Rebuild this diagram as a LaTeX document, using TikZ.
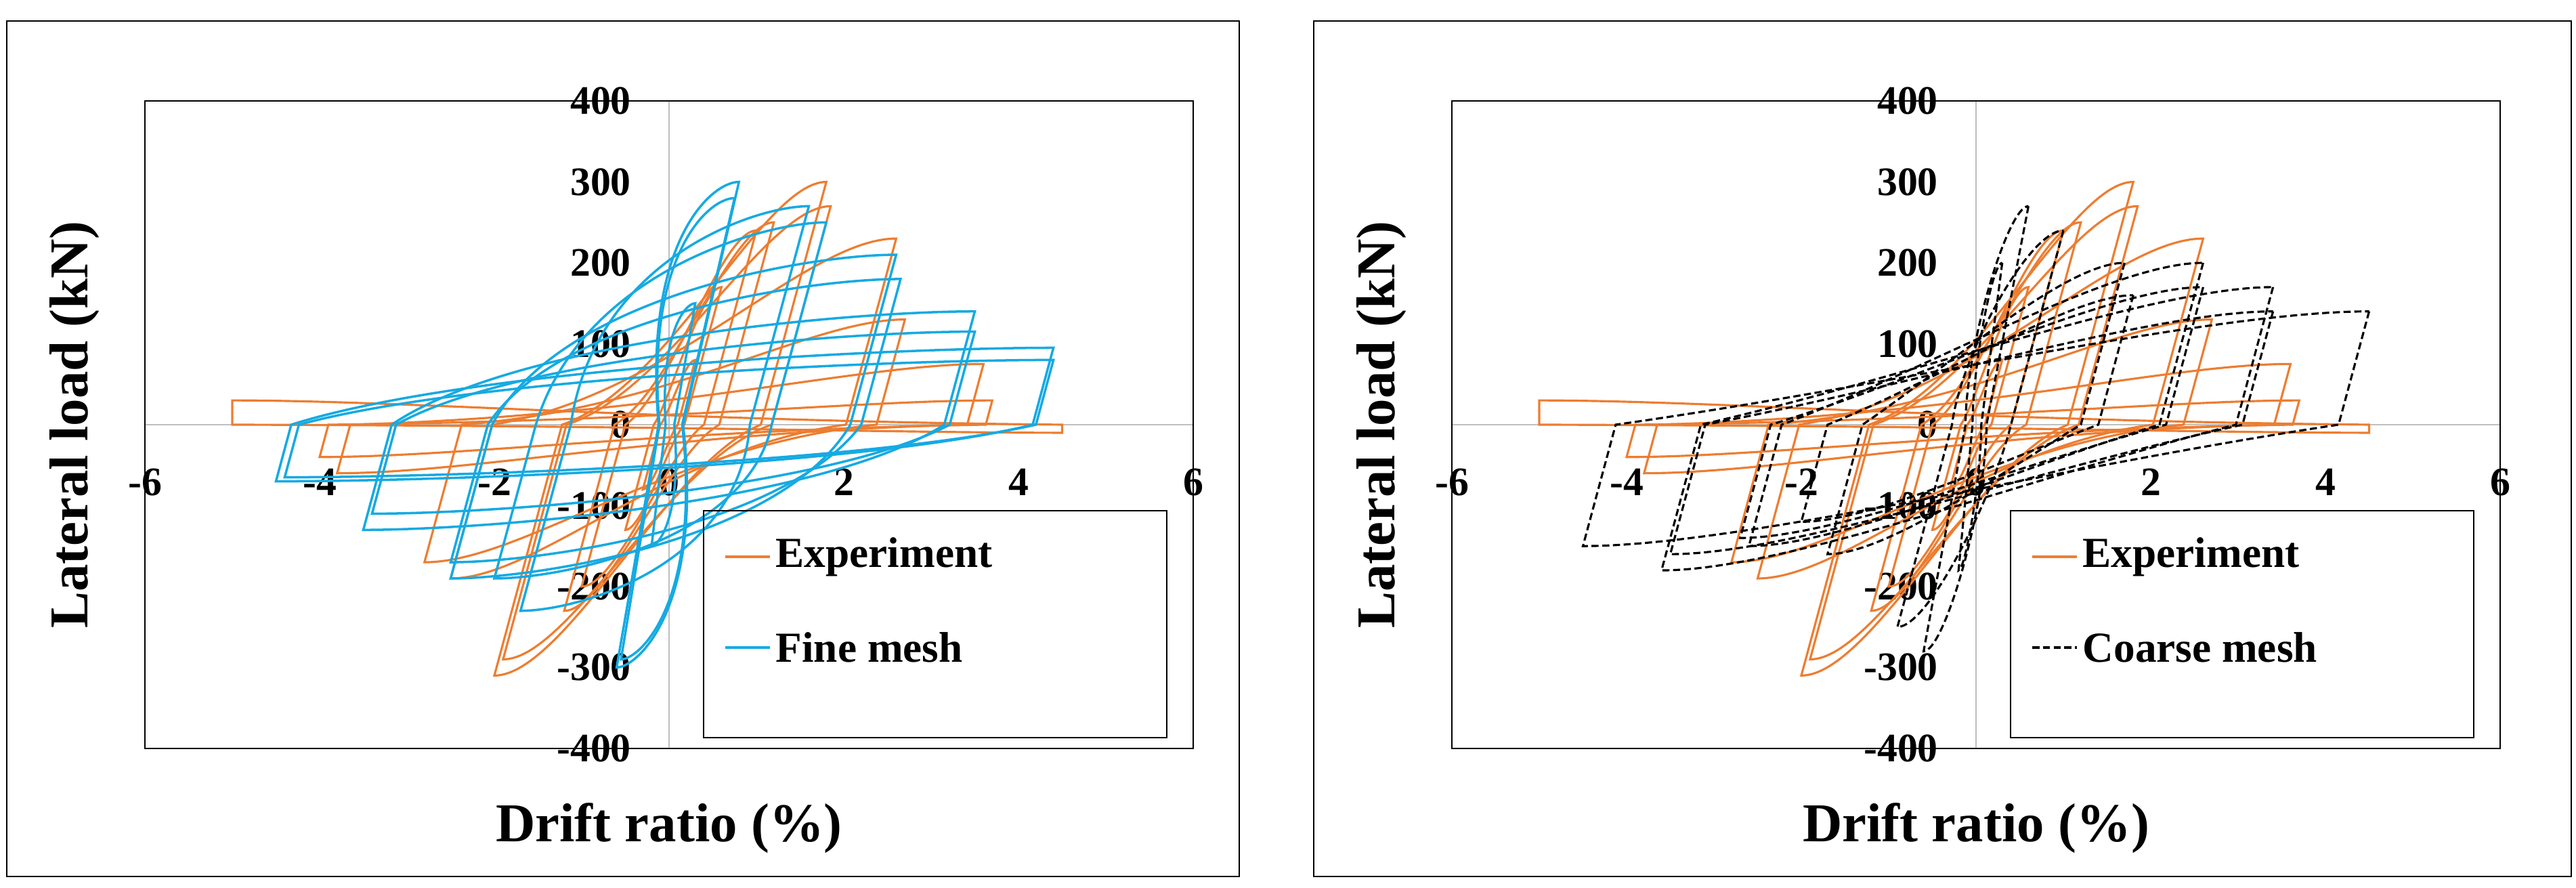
\documentclass[tikz,border=0pt]{standalone}
\usepackage{fontspec}
\setmainfont{Liberation Serif}
\begin{document}
\begin{tikzpicture}
\definecolor{expc}{RGB}{237,125,49}
\definecolor{finec}{RGB}{22,170,226}
\tikzset{
  frame/.style={draw=black,line width=0.6pt},
  tick/.style={font=\fontsize{17}{17}\selectfont\bfseries,inner sep=0pt},
  axtitle/.style={font=\fontsize{23}{23}\selectfont\bfseries,inner sep=0pt},
  leg/.style={font=\fontsize{18}{18}\selectfont\bfseries,inner sep=0pt,anchor=west},
  exp/.style={draw=expc,line width=0.9pt},
  fine/.style={draw=finec,line width=1pt},
  coarse/.style={draw=black,line width=0.9pt,dash pattern=on 3pt off 1.5pt},
}
% #5 = q (reload control x fraction), #6 = p (pinch)
\newcommand{\hloop}[7]{%
  \pgfmathsetmacro\xra{min(max(#1-#2/400,0.2*#1),#1)}%
  \pgfmathsetmacro\xrb{min(max(#3-#4/400,0.2*#3),#3)}%
  \draw[#7] (#1,#2) -- (\xra,0) .. controls ({#5*#1},{-#6*#4}) and ({-0.6*#3},{-#4}) .. (-#3,-#4)
    -- (-\xrb,0) .. controls ({-#5*#3},{#6*#2}) and ({0.6*#1},{#2}) .. cycle;}
\newcommand{\axes}{%
  \draw[gray!50,line width=0.6pt] (0,-400) -- (0,400) (-6,0) -- (6,0);
  \draw[line width=0.6pt] (-6,-400) rectangle (6,400);
  \foreach \f in {-400,-300,...,400} \node[tick,anchor=east] at (-0.43,\f) {\f};
  \foreach \d in {-6,-4,...,6} \node[tick] at (\d,-71) {\d};}
\useasboundingbox (0,0) rectangle (38.04,13.11);
\draw[frame] (0.10,0.17) rectangle (18.30,12.80);
\draw[frame] (19.40,0.17) rectangle (37.97,12.80);
% ---------- left panel
\begin{scope}[shift={(9.88,6.84)},x=1.29cm,y=0.01195cm]
  \axes
  \foreach \a/\b/\c/\e in {0.3/80/0.3/80,0.6/170/0.5/130,1.0/240/1.0/200,1.2/250/1.2/230,1.8/300/2.0/310,1.85/270/1.9/290,2.6/230/2.5/190,2.7/130/2.8/170,3.6/75/3.8/60,3.7/30/4.0/40,4.5/-10/5.0/-30}
    {\hloop{\a}{\b}{\c}{\e}{0}{0.15}{exp}}
  \foreach \a/\b/\c/\e in {0.3/150/0.2/150,0.8/300/0.6/300,0.75/280/0.55/290,1.6/270/1.7/230,1.8/250/2.0/190,2.6/210/2.5/190,2.65/180/2.5/170,3.5/140/3.5/130,3.5/115/3.4/110,4.4/95/4.5/70,4.4/80/4.4/65}
    {\hloop{\a}{\b}{\c}{\e}{0.5}{0.75}{fine}}
\end{scope}
\node[axtitle,rotate=90] at (1.10,6.84) {Lateral load (kN)};
\node[axtitle] at (9.88,0.88) {Drift ratio (\%)};
\draw[line width=0.6pt] (10.39,2.22) rectangle (17.23,5.57);
\draw[exp,line width=1pt] (10.71,4.89) -- (11.37,4.89);
\node[leg] at (11.45,4.89) {Experiment};
\draw[fine] (10.71,3.55) -- (11.37,3.55);
\node[leg] at (11.45,3.55) {Fine mesh};
% ---------- right panel
\begin{scope}[shift={(29.18,6.84)},x=1.29cm,y=0.01195cm]
  \axes
  \foreach \a/\b/\c/\e in {0.3/80/0.3/80,0.6/170/0.5/130,1.0/240/1.0/200,1.2/250/1.2/230,1.8/300/2.0/310,1.85/270/1.9/290,2.6/230/2.5/190,2.7/130/2.8/170,3.6/75/3.8/60,3.7/30/4.0/40,4.5/-10/5.0/-30}
    {\hloop{\a}{\b}{\c}{\e}{0}{0.15}{exp}}
  \foreach \a/\b/\c/\e in {0.3/200/0.2/180,0.6/270/0.6/280,1.0/240/0.9/250,1.7/200/1.7/160,1.8/160/2.0/120,2.6/200/2.6/150,2.6/170/2.7/140,3.4/170/3.6/180,3.4/140/3.5/160,4.5/140/4.5/150}
    {\hloop{\a}{\b}{\c}{\e}{0.2}{0.35}{coarse}}
\end{scope}
\node[axtitle,rotate=90] at (20.40,6.84) {Lateral load (kN)};
\node[axtitle] at (29.18,0.88) {Drift ratio (\%)};
\draw[line width=0.6pt] (29.69,2.22) rectangle (36.53,5.57);
\draw[exp,line width=1pt] (30.01,4.89) -- (30.67,4.89);
\node[leg] at (30.75,4.89) {Experiment};
\draw[coarse] (30.01,3.55) -- (30.67,3.55);
\node[leg] at (30.75,3.55) {Coarse mesh};
\end{tikzpicture}
\end{document}
